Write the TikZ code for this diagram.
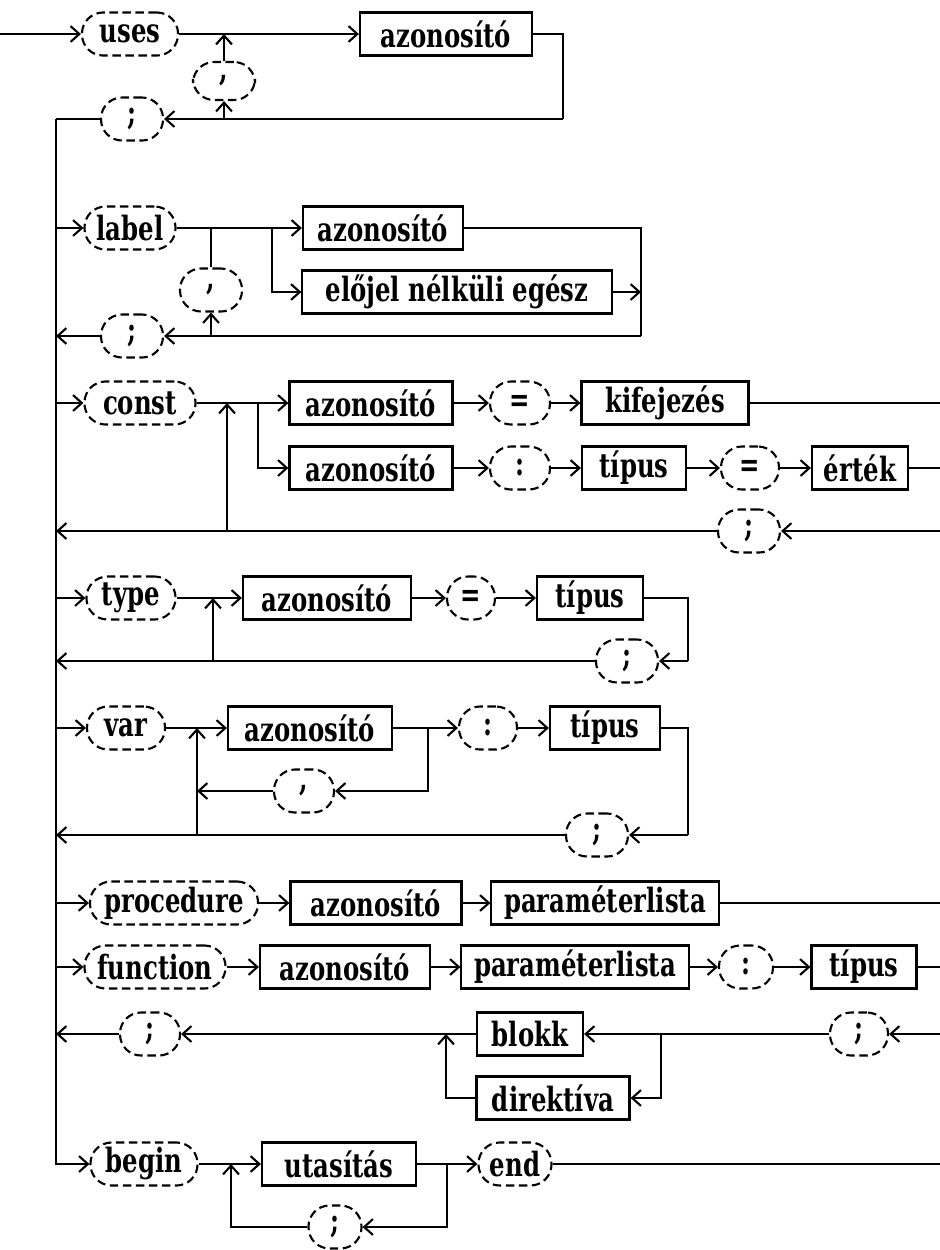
\documentclass[tikz,border=0pt]{standalone}
\usepackage{fontspec}
\newfontfamily\diafont{DejaVu Serif}[FakeStretch=0.73]
\usetikzlibrary{arrows.meta}

\tikzset{
  every node/.style={font=\diafont\bfseries\fontsize{9.5}{11}\selectfont, inner sep=0pt},
  kw/.style={draw, rectangle, rounded corners=6pt, dash pattern=on 2.4pt off 1.3pt, minimum height=0.43cm},
  nt/.style={draw, rectangle, minimum height=0.43cm},
  flow/.style={-{Straight Barb[length=2.5pt,width=4.5pt]}},
}

\begin{document}
\begin{tikzpicture}[x=0.01cm, y=-0.01cm, line width=0.6pt]
\useasboundingbox (0,0) rectangle (940,1250);

% uses
\coordinate (start) at (0,34);
\node[kw, minimum width=0.96cm] (uses) at (130,34) {uses};
\node[kw, minimum width=0.62cm, minimum height=0.38cm] (comma1) at (224,81) {,};
\node[nt, minimum width=1.72cm] (id1) at (446,34) {azonosító};
\node[kw, minimum width=0.62cm] (semi1) at (132,119) {;};
\coordinate (j1) at (224,34);
\coordinate (r1) at (563,119);
\coordinate (s1) at (56,119);

\draw[flow] (start) -- (uses);
\draw[flow] (uses) -- (id1);
\draw (id1.east) -| (r1);
\draw[flow] (r1) -- (semi1);
\draw[flow] (j1 |- r1) -- (comma1);
\draw[flow] (comma1) -- (j1);
\draw (semi1) -- (s1);

% label
\node[kw, minimum width=0.91cm] (label) at (130,228) {label};
\node[kw, minimum width=0.62cm] (comma2) at (211,290) {,};
\node[nt, minimum width=1.60cm] (id2) at (383,228) {azonosító};
\node[nt, minimum width=3.09cm] (unsig) at (457,292) {előjel nélküli egész};
\node[kw, minimum width=0.62cm] (semi2) at (132,336) {;};
\coordinate (j2) at (211,228);
\coordinate (b2) at (272,228);
\coordinate (r2) at (641,336);

\draw[flow] (s1 |- label) -- (label);
\draw[flow] (label) -- (id2);
\draw[flow] (b2) |- (unsig);
\draw (id2.east) -| (r2);
\draw[flow] (unsig.east) -- (unsig.east -| r2);
\draw[flow] (r2) -- (semi2);
\draw[flow] (j2 |- r2) -- (comma2);
\draw (comma2) -- (j2);
\draw[flow] (semi2) -- (s1 |- semi2);

% const
\node[kw, minimum width=1.11cm] (const) at (140,403) {const};
\node[nt, minimum width=1.63cm] (id3) at (371,403) {azonosító};
\node[kw, minimum width=0.60cm] (eq1) at (520,403) {=};
\node[nt, minimum width=1.67cm] (expr) at (665,403) {kifejezés};
\node[nt, minimum width=1.63cm] (id4) at (371,468) {azonosító};
\node[kw, minimum width=0.60cm] (colon1) at (520,468) {:};
\node[nt, minimum width=1.04cm] (tipus1) at (634,468) {típus};
\node[kw, minimum width=0.58cm] (eq2) at (750,468) {=};
\node[nt, minimum width=0.96cm] (value) at (860,468) {érték};
\node[kw, minimum width=0.62cm] (semi3) at (749,531) {;};
\coordinate (j3) at (227,403);
\coordinate (b3) at (258,403);
\coordinate (e3) at (940,403);
\coordinate (e4) at (940,468);
\coordinate (e5) at (940,531);

\draw[flow] (s1 |- const) -- (const);
\draw[flow] (const) -- (id3);
\draw[flow] (id3) -- (eq1);
\draw[flow] (eq1) -- (expr);
\draw (expr) -- (e3);
\draw[flow] (b3) |- (id4);
\draw[flow] (id4) -- (colon1);
\draw[flow] (colon1) -- (tipus1);
\draw[flow] (tipus1) -- (eq2);
\draw[flow] (eq2) -- (value);
\draw (value) -- (e4);
\draw[flow] (e5) -- (semi3);
\draw[flow] (semi3) -- (s1 |- semi3);
\draw[flow] (j3 |- semi3) -- (j3);

% type
\node[kw, minimum width=0.89cm] (type) at (131,598) {type};
\node[nt, minimum width=1.68cm] (id5) at (327,598) {azonosító};
\node[kw, minimum width=0.48cm] (eq3) at (471,598) {=};
\node[nt, minimum width=1.06cm] (tipus2) at (590,598) {típus};
\node[kw, minimum width=0.62cm] (semi4) at (627,661) {;};
\coordinate (j5) at (213,598);
\coordinate (r5) at (688,661);

\draw[flow] (s1 |- type) -- (type);
\draw[flow] (type) -- (id5);
\draw[flow] (id5) -- (eq3);
\draw[flow] (eq3) -- (tipus2);
\draw (tipus2.east) -| (r5);
\draw[flow] (r5) -- (semi4);
\draw[flow] (semi4) -- (s1 |- semi4);
\draw[flow] (j5 |- semi4) -- (j5);

% var
\node[kw, minimum width=0.78cm] (var) at (126,728) {var};
\node[nt, minimum width=1.64cm] (id6) at (310,728) {azonosító};
\node[kw, minimum width=0.60cm] (comma3) at (304,791) {,};
\node[kw, minimum width=0.58cm] (colon2) at (488,728) {:};
\node[nt, minimum width=1.10cm] (tipus3) at (605,728) {típus};
\node[kw, minimum width=0.62cm] (semi5) at (597,835) {;};
\coordinate (j6) at (197,728);
\coordinate (k6) at (428,728);
\coordinate (r6) at (688,835);

\draw[flow] (s1 |- var) -- (var);
\draw[flow] (var) -- (id6);
\draw[flow] (id6) -- (colon2);
\draw[flow] (colon2) -- (tipus3);
\draw (tipus3.east) -| (r6);
\draw[flow] (r6) -- (semi5);
\draw[flow] (semi5) -- (s1 |- semi5);
\draw[flow] (k6) |- (comma3);
\draw[flow] (comma3) -- (j6 |- comma3);
\draw[flow] (j6 |- semi5) -- (j6);

% procedure
\node[kw, minimum width=1.68cm] (proc) at (174,903) {procedure};
\node[nt, minimum width=1.71cm] (id7) at (376,903) {azonosító};
\node[nt, minimum width=2.27cm] (par1) at (605,903) {paraméterlista};
\coordinate (e7) at (940,903);

\draw[flow] (s1 |- proc) -- (proc);
\draw[flow] (proc) -- (id7);
\draw[flow] (id7) -- (par1);
\draw (par1) -- (e7);

% function
\node[kw, minimum width=1.41cm] (func) at (155,967) {function};
\node[nt, minimum width=1.70cm] (id8) at (345,967) {azonosító};
\node[nt, minimum width=2.27cm] (par2) at (575,967) {paraméterlista};
\node[kw, minimum width=0.54cm] (colon3) at (746,967) {:};
\node[nt, minimum width=1.05cm] (tipus4) at (864,967) {típus};
\coordinate (e8) at (940,967);

\draw[flow] (s1 |- func) -- (func);
\draw[flow] (func) -- (id8);
\draw[flow] (id8) -- (par2);
\draw[flow] (par2) -- (colon3);
\draw[flow] (colon3) -- (tipus4);
\draw (tipus4) -- (e8);

% blokk / direktiva
\node[kw, minimum width=0.60cm] (semi6) at (150,1034) {;};
\node[nt, minimum width=1.06cm] (block) at (530,1034) {blokk};
\node[nt, minimum width=1.53cm] (direct) at (553,1098) {direktíva};
\node[kw, minimum width=0.58cm] (semi7) at (859,1034) {;};
\coordinate (j9) at (446,1034);
\coordinate (k9) at (661,1034);
\coordinate (e9) at (940,1034);

\draw[flow] (e9) -- (semi7);
\draw[flow] (semi7) -- (block);
\draw[flow] (k9) |- (direct);
\draw[flow] (block) -- (semi6);
\draw[flow] (direct.west) -| (j9);
\draw[flow] (semi6) -- (s1 |- semi6);

% begin
\node[kw, minimum width=1.07cm] (begin) at (144,1164) {begin};
\node[nt, minimum width=1.54cm] (stmt) at (339,1164) {utasítás};
\node[kw, minimum width=0.73cm] (endkw) at (515,1164) {end};
\node[kw, minimum width=0.53cm] (semi8) at (335,1227) {;};
\coordinate (j10) at (231,1164);
\coordinate (k10) at (447,1164);
\coordinate (e10) at (940,1164);

\draw[flow] (s1) |- (begin);
\draw[flow] (begin) -- (stmt);
\draw[flow] (stmt) -- (endkw);
\draw (endkw) -- (e10);
\draw[flow] (k10) |- (semi8);
\draw[flow] (semi8) -| (j10);
\end{tikzpicture}
\end{document}
